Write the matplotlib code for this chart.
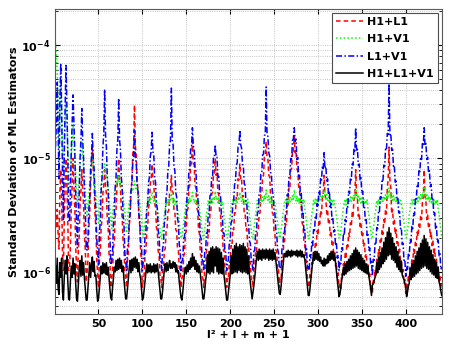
import numpy as np
import matplotlib
matplotlib.use("Agg")
import matplotlib.pyplot as plt

# log10 of the standard deviation, one row per l block (m = -l .. l)
h1l1_log = [
    -5.50,
    -5.62, -5.45, -5.68,
    -5.80, -5.30, -5.10, -5.34, -5.84,
    -5.99, -5.54, -5.24, -5.00, -5.24, -5.54, -5.99,
    -5.96, -5.77, -5.43, -5.24, -5.00, -5.24, -5.43, -5.77, -5.96,
    -6.09, -5.81, -5.69, -5.41, -5.29, -5.10, -5.29, -5.41, -5.69, -5.81, -6.09,
    -6.01, -5.89, -5.61, -5.49, -5.21, -5.09, -4.90, -5.09, -5.21, -5.49, -5.61, -5.89, -6.01,
    -6.14, -5.91, -5.84, -5.61, -5.54, -5.31, -5.24, -5.10, -5.24, -5.31, -5.54, -5.61, -5.84, -5.91, -6.14,
    -6.06, -6.00, -5.79, -5.73, -5.52, -5.46, -5.25, -5.19, -5.00, -5.19, -5.25, -5.46, -5.52, -5.73, -5.79, -6.00, -6.06,
    -6.14, -5.90, -5.83, -5.59, -5.52, -5.28, -5.20, -4.97, -4.89, -4.53, -4.89, -4.97, -5.20, -5.28, -5.52, -5.59, -5.83, -5.90, -6.14,
    -6.06, -6.03, -5.85, -5.82, -5.64, -5.61, -5.43, -5.40, -5.22, -5.19, -5.05, -5.19, -5.22, -5.40, -5.43, -5.61, -5.64, -5.82, -5.85, -6.03, -6.06,
    -6.14, -5.98, -5.97, -5.81, -5.80, -5.64, -5.63, -5.47, -5.46, -5.30, -5.29, -5.15, -5.29, -5.30, -5.46, -5.47, -5.63, -5.64, -5.80, -5.81, -5.97, -5.98, -6.14,
    -6.06, -6.04, -5.86, -5.84, -5.66, -5.64, -5.46, -5.44, -5.26, -5.24, -5.06, -5.04, -4.85, -5.04, -5.06, -5.24, -5.26, -5.44, -5.46, -5.64, -5.66, -5.84, -5.86, -6.04, -6.06,
    -6.14, -5.98, -5.97, -5.81, -5.80, -5.64, -5.65, -5.48, -5.47, -5.31, -5.30, -5.14, -5.13, -5.00, -5.15, -5.13, -5.30, -5.32, -5.47, -5.49, -5.64, -5.63, -5.81, -5.80, -5.97, -5.99, -6.14,
    -6.06, -6.07, -5.91, -5.92, -5.77, -5.78, -5.62, -5.63, -5.48, -5.48, -5.33, -5.34, -5.18, -5.19, -5.05, -5.19, -5.18, -5.34, -5.33, -5.48, -5.48, -5.63, -5.62, -5.78, -5.77, -5.92, -5.91, -6.07, -6.06,
    -6.14, -5.98, -5.97, -5.81, -5.82, -5.65, -5.64, -5.49, -5.48, -5.32, -5.31, -5.16, -5.15, -4.99, -4.98, -4.85, -4.99, -5.00, -5.15, -5.16, -5.32, -5.33, -5.48, -5.49, -5.65, -5.66, -5.81, -5.82, -5.98, -5.97, -6.14,
    -6.06, -6.07, -5.90, -5.91, -5.74, -5.73, -5.58, -5.59, -5.42, -5.41, -5.26, -5.27, -5.10, -5.09, -4.94, -4.95, -4.80, -4.95, -4.93, -5.09, -5.11, -5.25, -5.27, -5.41, -5.43, -5.57, -5.59, -5.73, -5.75, -5.89, -5.91, -6.05, -6.07,
    -6.14, -6.01, -6.05, -5.92, -5.95, -5.83, -5.86, -5.74, -5.77, -5.64, -5.68, -5.55, -5.58, -5.46, -5.49, -5.36, -5.32, -5.15, -5.32, -5.36, -5.49, -5.46, -5.58, -5.55, -5.68, -5.64, -5.77, -5.74, -5.86, -5.83, -5.95, -5.92, -6.05, -6.01, -6.14,
    -6.11, -6.15, -6.02, -6.05, -5.93, -5.96, -5.84, -5.87, -5.75, -5.78, -5.66, -5.69, -5.57, -5.60, -5.48, -5.51, -5.36, -5.34, -5.10, -5.34, -5.36, -5.51, -5.48, -5.60, -5.57, -5.69, -5.66, -5.78, -5.75, -5.87, -5.84, -5.96, -5.93, -6.05, -6.02, -6.15, -6.11,
    -6.19, -6.07, -6.10, -5.98, -6.02, -5.89, -5.93, -5.80, -5.84, -5.72, -5.75, -5.63, -5.67, -5.54, -5.58, -5.45, -5.49, -5.26, -5.19, -4.90, -5.19, -5.26, -5.49, -5.45, -5.58, -5.54, -5.67, -5.63, -5.75, -5.72, -5.84, -5.80, -5.93, -5.89, -6.02, -5.98, -6.10, -6.07, -6.19,
    -6.11, -6.15, -6.03, -6.08, -5.96, -6.00, -5.88, -5.92, -5.80, -5.85, -5.73, -5.77, -5.65, -5.69, -5.58, -5.62, -5.50, -5.54, -5.38, -5.34, -5.10, -5.34, -5.38, -5.54, -5.50, -5.62, -5.58, -5.69, -5.65, -5.77, -5.73, -5.85, -5.80, -5.92, -5.88, -6.00, -5.96, -6.08, -6.03, -6.15, -6.11,
]

h1v1_log = [
    -3.98,
    -4.10, -4.25, -4.42,
    -4.90, -4.55, -4.30, -4.58, -4.92,
    -5.12, -4.86, -4.72, -4.50, -4.70, -4.88, -5.10,
    -5.30, -5.17, -4.98, -4.87, -4.70, -4.85, -5.02, -5.13, -5.32,
    -5.42, -5.27, -5.20, -5.05, -4.98, -4.85, -4.96, -5.09, -5.16, -5.31, -5.40,
    -5.52, -5.40, -5.35, -5.23, -5.19, -5.06, -5.00, -5.10, -5.15, -5.27, -5.31, -5.44, -5.48,
    -5.57, -5.40, -5.35, -5.23, -5.20, -5.12, -5.12, -5.05, -5.08, -5.16, -5.16, -5.27, -5.31, -5.44, -5.53,
    -5.62, -5.48, -5.42, -5.33, -5.27, -5.25, -5.20, -5.22, -5.15, -5.20, -5.24, -5.21, -5.29, -5.31, -5.44, -5.46, -5.60,
    -5.66, -5.55, -5.46, -5.40, -5.32, -5.30, -5.26, -5.29, -5.25, -5.20, -5.26, -5.28, -5.25, -5.31, -5.32, -5.38, -5.47, -5.53, -5.65,
    -5.70, -5.63, -5.57, -5.50, -5.44, -5.36, -5.40, -5.35, -5.39, -5.34, -5.30, -5.35, -5.38, -5.36, -5.41, -5.37, -5.45, -5.49, -5.58, -5.62, -5.71,
    -5.71, -5.62, -5.58, -5.49, -5.45, -5.37, -5.41, -5.36, -5.40, -5.35, -5.38, -5.29, -5.36, -5.39, -5.35, -5.41, -5.37, -5.40, -5.44, -5.51, -5.56, -5.64, -5.70,
    -5.70, -5.63, -5.57, -5.50, -5.44, -5.38, -5.41, -5.36, -5.40, -5.35, -5.39, -5.34, -5.30, -5.35, -5.39, -5.36, -5.40, -5.37, -5.41, -5.38, -5.45, -5.50, -5.57, -5.63, -5.71,
    -5.71, -5.62, -5.57, -5.49, -5.45, -5.37, -5.41, -5.36, -5.40, -5.35, -5.39, -5.34, -5.37, -5.29, -5.36, -5.34, -5.39, -5.35, -5.40, -5.36, -5.41, -5.38, -5.44, -5.51, -5.56, -5.64, -5.70,
    -5.70, -5.63, -5.58, -5.50, -5.44, -5.39, -5.36, -5.41, -5.35, -5.40, -5.36, -5.39, -5.34, -5.37, -5.30, -5.35, -5.38, -5.34, -5.40, -5.36, -5.41, -5.37, -5.40, -5.36, -5.45, -5.50, -5.57, -5.63, -5.71,
    -5.71, -5.62, -5.57, -5.49, -5.45, -5.37, -5.41, -5.36, -5.40, -5.35, -5.39, -5.34, -5.38, -5.33, -5.36, -5.28, -5.34, -5.37, -5.33, -5.39, -5.35, -5.40, -5.36, -5.41, -5.37, -5.40, -5.44, -5.51, -5.56, -5.64, -5.70,
    -5.70, -5.63, -5.58, -5.50, -5.44, -5.39, -5.36, -5.41, -5.35, -5.40, -5.36, -5.39, -5.34, -5.38, -5.33, -5.36, -5.28, -5.34, -5.38, -5.33, -5.39, -5.35, -5.40, -5.36, -5.41, -5.37, -5.40, -5.36, -5.45, -5.50, -5.57, -5.63, -5.71,
    -5.71, -5.62, -5.57, -5.49, -5.45, -5.37, -5.41, -5.36, -5.40, -5.35, -5.39, -5.34, -5.38, -5.33, -5.37, -5.32, -5.35, -5.28, -5.33, -5.37, -5.32, -5.38, -5.34, -5.39, -5.35, -5.40, -5.36, -5.41, -5.37, -5.40, -5.44, -5.51, -5.56, -5.64, -5.70,
    -5.70, -5.63, -5.58, -5.50, -5.44, -5.39, -5.36, -5.41, -5.35, -5.40, -5.36, -5.39, -5.34, -5.38, -5.33, -5.37, -5.32, -5.35, -5.27, -5.33, -5.36, -5.32, -5.38, -5.34, -5.39, -5.35, -5.40, -5.36, -5.41, -5.37, -5.40, -5.36, -5.45, -5.50, -5.57, -5.63, -5.71,
    -5.71, -5.62, -5.57, -5.49, -5.45, -5.37, -5.41, -5.36, -5.40, -5.35, -5.39, -5.34, -5.38, -5.33, -5.37, -5.32, -5.36, -5.31, -5.34, -5.26, -5.32, -5.35, -5.31, -5.37, -5.33, -5.38, -5.34, -5.39, -5.35, -5.40, -5.36, -5.41, -5.37, -5.40, -5.44, -5.51, -5.56, -5.64, -5.70,
    -5.70, -5.63, -5.58, -5.50, -5.44, -5.39, -5.36, -5.41, -5.35, -5.40, -5.36, -5.39, -5.34, -5.38, -5.33, -5.37, -5.32, -5.36, -5.31, -5.34, -5.26, -5.32, -5.36, -5.31, -5.37, -5.33, -5.38, -5.34, -5.39, -5.35, -5.40, -5.36, -5.41, -5.37, -5.40, -5.36, -5.45, -5.50, -5.57, -5.63, -5.71,
]

l1v1_log = [
    -4.90,
    -4.70, -4.33, -4.75,
    -5.18, -4.52, -4.16, -4.56, -5.14,
    -5.54, -4.96, -4.54, -4.18, -4.54, -4.96, -5.54,
    -5.56, -5.32, -4.93, -4.69, -4.44, -4.69, -4.93, -5.32, -5.56,
    -5.79, -5.47, -5.31, -5.00, -4.84, -4.56, -4.84, -5.00, -5.31, -5.47, -5.79,
    -5.81, -5.71, -5.45, -5.35, -5.09, -4.99, -4.78, -4.99, -5.09, -5.35, -5.45, -5.71, -5.81,
    -5.94, -5.67, -5.56, -5.29, -5.17, -4.90, -4.79, -4.39, -4.79, -4.90, -5.17, -5.29, -5.56, -5.67, -5.94,
    -5.91, -5.83, -5.58, -5.50, -5.25, -5.17, -4.92, -4.84, -4.47, -4.84, -4.92, -5.17, -5.25, -5.50, -5.58, -5.83, -5.91,
    -5.99, -5.79, -5.74, -5.54, -5.49, -5.29, -5.24, -5.04, -4.99, -4.75, -4.99, -5.04, -5.24, -5.29, -5.49, -5.54, -5.74, -5.79, -5.99,
    -5.91, -5.87, -5.68, -5.64, -5.44, -5.41, -5.21, -5.17, -4.98, -4.94, -4.77, -4.94, -4.98, -5.17, -5.21, -5.41, -5.44, -5.64, -5.68, -5.87, -5.91,
    -5.99, -5.80, -5.76, -5.57, -5.53, -5.34, -5.30, -5.11, -5.07, -4.88, -4.84, -4.38, -4.84, -4.88, -5.07, -5.11, -5.30, -5.34, -5.53, -5.57, -5.76, -5.80, -5.99,
    -5.91, -5.89, -5.71, -5.69, -5.51, -5.49, -5.31, -5.29, -5.11, -5.09, -4.91, -4.89, -4.73, -4.89, -4.91, -5.09, -5.11, -5.29, -5.31, -5.49, -5.51, -5.69, -5.71, -5.89, -5.91,
    -5.99, -5.83, -5.82, -5.66, -5.66, -5.49, -5.49, -5.33, -5.32, -5.16, -5.16, -4.99, -4.99, -4.88, -4.99, -4.99, -5.16, -5.16, -5.32, -5.33, -5.49, -5.49, -5.66, -5.66, -5.82, -5.83, -5.99,
    -5.91, -5.90, -5.74, -5.72, -5.57, -5.55, -5.40, -5.38, -5.23, -5.21, -5.06, -5.04, -4.90, -4.89, -4.75, -4.88, -4.91, -5.05, -5.07, -5.22, -5.24, -5.39, -5.41, -5.56, -5.58, -5.73, -5.75, -5.90, -5.93,
    -5.99, -5.82, -5.81, -5.65, -5.64, -5.48, -5.47, -5.31, -5.30, -5.14, -5.13, -4.97, -4.96, -4.80, -4.79, -4.37, -4.78, -4.81, -4.95, -4.98, -5.12, -5.15, -5.29, -5.32, -5.46, -5.49, -5.63, -5.66, -5.80, -5.83, -5.97,
    -5.96, -5.97, -5.80, -5.79, -5.64, -5.65, -5.48, -5.47, -5.32, -5.33, -5.16, -5.15, -5.00, -5.01, -4.84, -4.83, -4.73, -4.85, -4.83, -5.01, -4.99, -5.17, -5.15, -5.33, -5.31, -5.49, -5.47, -5.65, -5.63, -5.81, -5.79, -5.97, -5.95,
    -5.99, -5.85, -5.88, -5.74, -5.77, -5.63, -5.65, -5.52, -5.54, -5.40, -5.43, -5.29, -5.32, -5.18, -5.20, -5.07, -5.09, -4.95, -5.09, -5.07, -5.20, -5.18, -5.32, -5.29, -5.43, -5.40, -5.54, -5.52, -5.65, -5.63, -5.77, -5.74, -5.88, -5.85, -5.99,
    -5.91, -5.93, -5.79, -5.81, -5.66, -5.68, -5.54, -5.56, -5.42, -5.43, -5.29, -5.31, -5.17, -5.19, -5.05, -5.06, -4.92, -4.94, -4.73, -4.94, -4.92, -5.06, -5.05, -5.19, -5.17, -5.31, -5.29, -5.43, -5.42, -5.56, -5.54, -5.68, -5.66, -5.81, -5.79, -5.93, -5.91,
    -6.04, -5.89, -5.90, -5.75, -5.76, -5.61, -5.62, -5.47, -5.48, -5.34, -5.35, -5.20, -5.21, -5.06, -5.07, -4.92, -4.93, -4.78, -4.79, -4.34, -4.79, -4.78, -4.93, -4.92, -5.07, -5.06, -5.21, -5.20, -5.35, -5.34, -5.48, -5.47, -5.62, -5.61, -5.76, -5.75, -5.90, -5.89, -6.04,
    -5.96, -5.98, -5.84, -5.86, -5.72, -5.74, -5.60, -5.62, -5.48, -5.50, -5.36, -5.37, -5.23, -5.25, -5.11, -5.13, -4.99, -5.01, -4.87, -4.89, -4.73, -4.89, -4.87, -5.01, -4.99, -5.13, -5.11, -5.25, -5.23, -5.37, -5.36, -5.50, -5.48, -5.62, -5.60, -5.74, -5.72, -5.86, -5.84, -5.98, -5.96,
]

h1l1v1_log = [
    -5.95,
    -6.10, -5.88, -6.15,
    -6.20, -5.92, -6.05, -5.88, -6.18,
    -6.25, -6.05, -5.90, -6.02, -5.86, -6.08, -6.24,
    -6.25, -6.08, -5.95, -6.05, -5.88, -6.02, -5.93, -6.10, -6.24,
    -6.26, -6.12, -5.98, -5.90, -6.04, -5.86, -6.03, -5.92, -6.06, -6.15, -6.25,
    -6.25, -6.14, -6.02, -5.92, -6.05, -5.94, -5.87, -6.00, -5.91, -6.04, -6.03, -6.16, -6.26,
    -6.24, -6.15, -6.05, -5.95, -6.02, -5.92, -6.01, -5.93, -6.02, -5.92, -6.03, -5.96, -6.06, -6.15, -6.23,
    -6.25, -6.14, -6.06, -5.96, -6.00, -5.90, -5.99, -5.89, -5.98, -5.88, -5.97, -5.90, -6.00, -5.95, -6.07, -6.15, -6.24,
    -6.24, -6.15, -6.05, -5.97, -5.90, -6.01, -5.89, -5.99, -5.88, -5.96, -5.87, -5.97, -5.89, -6.00, -5.92, -6.02, -6.06, -6.16, -6.25,
    -6.23, -6.16, -6.08, -5.99, -5.93, -6.01, -5.94, -6.00, -5.93, -6.01, -5.95, -6.00, -5.93, -6.01, -5.94, -6.00, -5.93, -6.00, -6.08, -6.17, -6.24,
    -6.24, -6.17, -6.08, -5.98, -5.93, -6.00, -5.92, -5.99, -5.95, -5.90, -5.97, -5.93, -5.97, -5.91, -5.96, -5.92, -6.00, -5.94, -6.01, -5.99, -6.09, -6.16, -6.23,
    -6.25, -6.18, -6.09, -6.00, -5.96, -6.02, -5.94, -6.00, -5.91, -5.98, -5.88, -5.96, -5.84, -5.95, -5.87, -5.98, -5.90, -6.00, -5.93, -6.01, -5.95, -6.02, -6.09, -6.17, -6.24,
    -6.24, -6.17, -6.08, -6.02, -5.85, -6.01, -5.82, -6.02, -5.79, -6.00, -5.78, -6.01, -5.80, -5.95, -5.78, -6.00, -5.79, -6.02, -5.80, -6.01, -5.83, -6.02, -5.88, -6.03, -6.10, -6.18, -6.25,
    -6.25, -6.18, -6.10, -6.03, -5.86, -6.02, -5.80, -6.01, -5.77, -6.00, -5.75, -6.01, -5.78, -5.99, -5.76, -6.00, -5.77, -6.01, -5.75, -6.00, -5.78, -6.01, -5.80, -6.02, -5.86, -6.03, -6.10, -6.17, -6.24,
    -6.18, -6.12, -6.05, -5.96, -5.88, -5.82, -5.90, -5.80, -5.89, -5.81, -5.90, -5.80, -5.88, -5.81, -5.89, -5.80, -5.88, -5.81, -5.90, -5.80, -5.89, -5.81, -5.90, -5.80, -5.89, -5.83, -5.90, -5.97, -6.05, -6.12, -6.19,
    -6.20, -6.13, -6.05, -5.96, -5.88, -5.84, -5.87, -5.82, -5.87, -5.81, -5.86, -5.82, -5.87, -5.81, -5.86, -5.82, -5.85, -5.82, -5.86, -5.81, -5.87, -5.82, -5.86, -5.81, -5.87, -5.82, -5.87, -5.85, -5.89, -5.97, -6.06, -6.13, -6.21,
    -6.21, -6.14, -6.06, -5.98, -5.90, -5.83, -5.90, -5.82, -5.89, -5.82, -5.90, -5.84, -5.91, -5.87, -5.93, -5.90, -5.95, -5.88, -5.95, -5.89, -5.93, -5.86, -5.92, -5.84, -5.90, -5.82, -5.89, -5.82, -5.90, -5.84, -5.92, -5.99, -6.07, -6.14, -6.22,
    -6.20, -6.14, -6.08, -6.03, -5.96, -6.03, -5.93, -6.02, -5.91, -6.00, -5.89, -5.99, -5.86, -5.98, -5.84, -5.97, -5.81, -5.96, -5.79, -5.95, -5.81, -5.97, -5.83, -5.98, -5.85, -5.99, -5.88, -6.00, -5.90, -6.01, -5.93, -6.02, -5.95, -6.04, -6.09, -6.15, -6.21,
    -6.12, -6.10, -6.08, -6.05, -6.03, -5.92, -6.01, -5.87, -5.98, -5.83, -5.96, -5.79, -5.93, -5.74, -5.91, -5.70, -5.89, -5.65, -5.86, -5.61, -5.85, -5.66, -5.89, -5.70, -5.90, -5.75, -5.92, -5.78, -5.96, -5.82, -5.98, -5.87, -6.00, -5.91, -6.03, -6.05, -6.07, -6.10, -6.13,
    -6.22, -6.18, -6.13, -6.10, -5.97, -6.07, -5.93, -6.05, -5.90, -6.04, -5.86, -6.02, -5.82, -6.01, -5.79, -5.99, -5.75, -5.97, -5.72, -5.96, -5.68, -5.95, -5.71, -5.97, -5.74, -5.98, -5.78, -6.00, -5.81, -6.02, -5.85, -6.03, -5.89, -6.05, -5.92, -6.06, -5.96, -6.09, -6.12, -6.17, -6.21,
]

labels = ["H1+L1", "H1+V1", "L1+V1", "H1+L1+V1"]
x_ticks = [50, 100, 150, 200, 250, 300, 350, 400]

plt.rcParams["font.family"] = "DejaVu Sans"
plt.rcParams["font.weight"] = "bold"
plt.rcParams["mathtext.default"] = "bf"

fig = plt.figure(figsize=(4.5, 3.54), dpi=100)
ax = fig.add_axes([0.1233, 0.113, 0.8583, 0.8607])

series = [
    (h1l1_log, "red", (0, (3, 2))),
    (h1v1_log, "#00ff00", (0, (1, 1.5))),
    (l1v1_log, "blue", (0, (4, 1.5, 1, 1.5))),
    (h1l1v1_log, "black", "-"),
]
for (vals, col, ls), lab in zip(series, labels):
    n = np.arange(1, len(vals) + 1)
    ax.plot(n, 10.0 ** np.array(vals), color=col, ls=ls, lw=1.1, label=lab)

ax.set_yscale("log")
ax.set_xlim(1, 441)
ax.set_ylim(10 ** -6.373, 10 ** -3.685)
ax.set_xticks(x_ticks)
ax.set_yticks([1e-6, 1e-5, 1e-4])
ax.set_yticklabels(["10$^{-6}$", "10$^{-5}$", "10$^{-4}$"])
ax.tick_params(which="both", direction="in", labelsize=8, top=True, right=True)
ax.tick_params(which="minor", labelleft=False)
ax.grid(True, which="major", ls=":", color="0.7", lw=0.6)
ax.grid(True, which="minor", axis="y", ls=":", color="0.7", lw=0.6)
for s in ax.spines.values():
    s.set_color("0.35")

ax.set_xlabel("l² + l + m + 1", fontsize=8, fontweight="bold", labelpad=1)
ax.set_ylabel("Standard Deviation of ML Estimators", fontsize=8, fontweight="bold", labelpad=2)

leg = ax.legend(loc="upper right", fontsize=8, fancybox=False, framealpha=1,
                edgecolor="0.3", handlelength=2.4, borderaxespad=0.3,
                labelspacing=0.65, handletextpad=0.4, borderpad=0.4)
leg.get_frame().set_linewidth(0.8)

fig.savefig("out.png", dpi=100)
